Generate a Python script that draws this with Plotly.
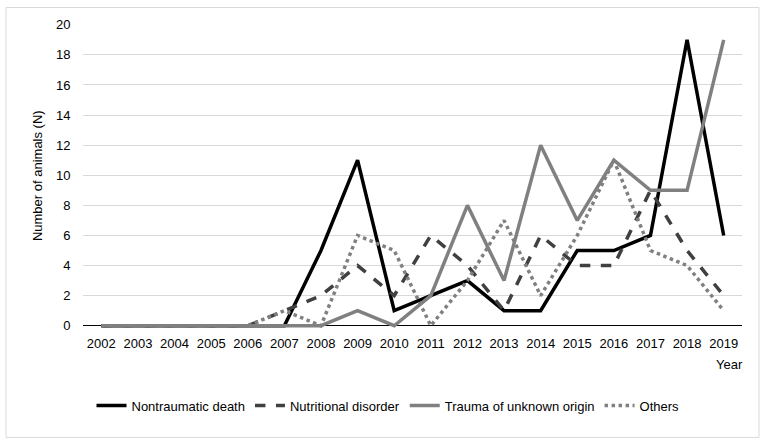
import plotly.graph_objects as go

years = [str(y) for y in range(2002, 2020)]
nontraumatic = [0, 0, 0, 0, 0, 0, 5, 11, 1, 2, 3, 1, 1, 5, 5, 6, 19, 6]
nutritional = [0, 0, 0, 0, 0, 1, 2, 4, 2, 6, 4, 1, 6, 4, 4, 9, 5, 2]
trauma = [0, 0, 0, 0, 0, 0, 0, 1, 0, 2, 8, 3, 12, 7, 11, 9, 9, 19]
others = [0, 0, 0, 0, 0, 1, 0, 6, 5, 0, 3, 7, 2, 6, 11, 5, 4, 1]
y_ticks = list(range(0, 21, 2))

FONT = "Liberation Sans, Arial, sans-serif"
FS = 13

fig = go.Figure()
fig.add_trace(go.Scatter(x=years, y=nontraumatic, mode="lines", name="Nontraumatic death",
                         line=dict(color="#000000", width=3.5)))
fig.add_trace(go.Scatter(x=years, y=nutritional, mode="lines", name="Nutritional disorder",
                         line=dict(color="#404040", width=3.5, dash="dash")))
fig.add_trace(go.Scatter(x=years, y=trauma, mode="lines", name="Trauma of unknown origin",
                         line=dict(color="#808080", width=3.5)))
fig.add_trace(go.Scatter(x=years, y=others, mode="lines", name="Others",
                         line=dict(color="#808080", width=3.5, dash="dot")))

L, R, T, B = 83, 742, 23.5, 328.3
W, H = 766, 445

def px(x):
    return (x - L) / (R - L)

def py(y):
    return (B - y) / (B - T)

fig.update_layout(
    width=W, height=H,
    margin=dict(l=L, r=W - R, t=T, b=H - B),
    paper_bgcolor="white", plot_bgcolor="white",
    font=dict(family=FONT, size=FS, color="#000000"),
    showlegend=True,
    legend=dict(orientation="h", x=px(388), xanchor="center", y=py(406), yanchor="middle",
                font=dict(size=FS), itemwidth=30, tracegroupgap=0),
    xaxis=dict(type="category", range=[-0.5, len(years) - 0.5], showgrid=False,
               showline=False, ticks="outside", ticklen=3, tickcolor="rgba(0,0,0,0)",
               tickfont=dict(size=FS), automargin=False),
    yaxis=dict(range=[-0.15, 20.05], tickvals=y_ticks, showgrid=True, gridcolor="#d9d9d9",
               gridwidth=1, zeroline=True, zerolinecolor="#000000", zerolinewidth=1,
               showline=False, ticks="outside", ticklen=9, tickcolor="rgba(0,0,0,0)",
               tickfont=dict(size=FS), automargin=False),
    annotations=[
        dict(text="Year", xref="paper", yref="paper", x=px(745), y=py(365),
             xanchor="right", yanchor="middle", showarrow=False, font=dict(size=FS)),
        dict(text="Number of animals (N)", xref="paper", yref="paper", x=px(37), y=py(175),
             xanchor="center", yanchor="middle", textangle=-90, showarrow=False,
             font=dict(size=FS)),
    ],
    shapes=[dict(type="rect", xref="paper", yref="paper", x0=px(6), x1=px(759),
                 y0=py(438), y1=py(7), line=dict(color="#d9d9d9", width=1), layer="below")],
)

fig.write_html("out.html", config={"displayModeBar": False},
               post_script="document.body.style.margin='0';")
